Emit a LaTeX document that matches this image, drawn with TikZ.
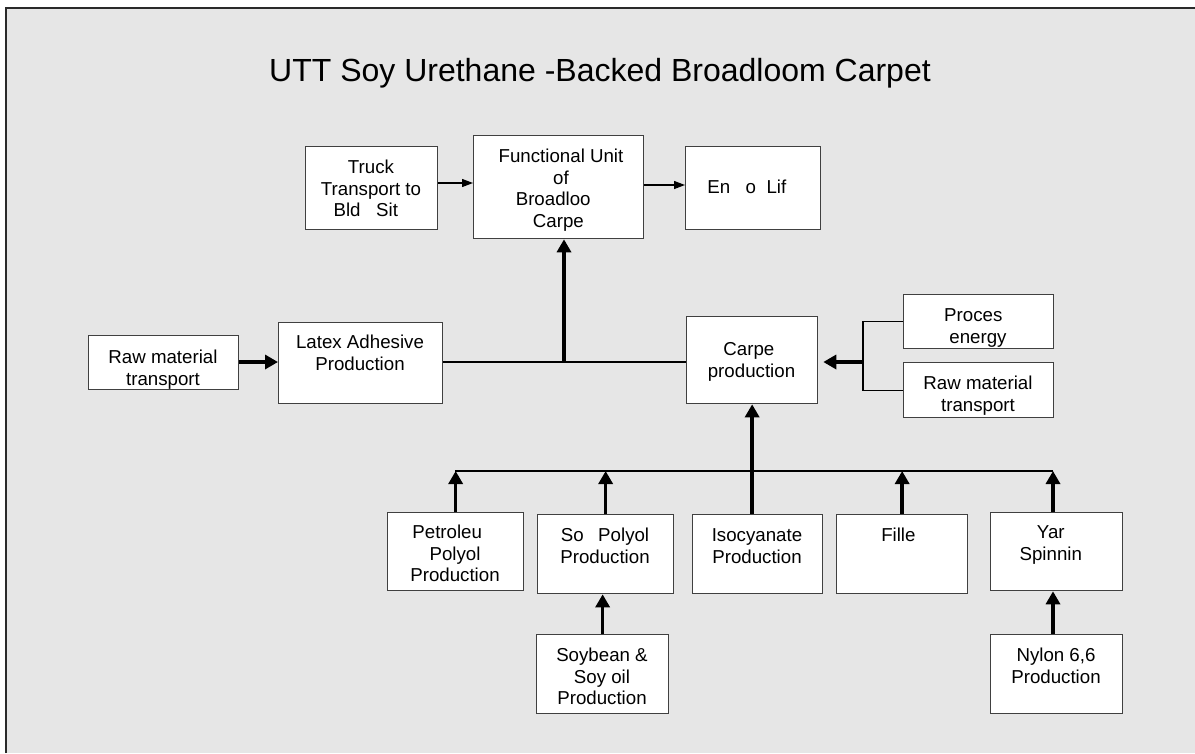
\documentclass[tikz,border=0pt]{standalone}
\usepackage{fontspec}
\setmainfont{Liberation Sans}
\usetikzlibrary{arrows.meta,calc}
\definecolor{bg}{HTML}{E6E6E6}
\definecolor{frame}{HTML}{2A2A2A}
\definecolor{edge}{HTML}{404040}
\newcommand\fl{\rule{0pt}{15pt}}
\begin{document}
\begin{tikzpicture}[x=1pt,y=-1pt,
  box/.style={draw=edge, fill=white, line width=1.3pt, inner sep=0pt, anchor=north west},
  txt/.style={inner sep=0pt, align=center, anchor=north, font=\fontsize{18.7}{21.8}\selectfont},
  tarr/.style={line width=1.3pt, -{Triangle[length=11pt,width=8pt]}},
  karr/.style={line width=3.5pt, -{Triangle[length=13pt,width=14pt]}},
  tline/.style={line width=1.3pt}]
\useasboundingbox (0,0) rectangle (1195,753);
\fill[white] (0,0) rectangle (1195,753);
\fill[bg] (6,8) rectangle (1195,753);
\draw[line width=2.5pt, color=frame] (6.2,753) -- (6.2,8.2) -- (1195,8.2);

\node[anchor=base, inner sep=0pt, font=\fontsize{32}{36}\selectfont] (title) at (600,81) {UTT Soy Urethane -Backed Broadloom Carpet};

% boxes
\node[box, minimum width=132pt, minimum height=83pt] (tr) at (305,146) {};
\node[txt] (trt) at (371,158) {\fl Truck\\Transport to\\Bld\phantom{g} Sit\phantom{e}};
\node[box, minimum width=170pt, minimum height=103pt] (fu) at (473,135) {};
\node[txt] (fut) at (561,147) {\fl Functional Unit\\of\hspace{38pt}\\Broadloo\phantom{m}\\Carpe\phantom{t}};
\node[box, minimum width=135pt, minimum height=83pt] (eol) at (685,146) {};
\node[txt] (eolt) at (752,178) {\fl En\phantom{d} o\phantom{f} Lif\phantom{e}};

\node[box, minimum width=150pt, minimum height=54pt] (rm1) at (88,335) {};
\node[txt] (rm1t) at (163,348) {\fl Raw material\\transport};
\node[box, minimum width=164pt, minimum height=81pt] (lat) at (278,322) {};
\node[txt] (latt) at (360,333) {\fl Latex Adhesive\\Production};
\node[box, minimum width=131pt, minimum height=87pt] (cp) at (686,316) {};
\node[txt] (cpt) at (751.5,340) {\fl Carpe\phantom{t}\\production};
\node[box, minimum width=150pt, minimum height=54pt] (pe) at (903,294) {};
\node[txt] (pet) at (978,306) {\fl Proces\phantom{s}\\energy};
\node[box, minimum width=150pt, minimum height=55pt] (rm2) at (903,362) {};
\node[txt] (rm2t) at (978,374) {\fl Raw material\\transport};

\node[box, minimum width=136pt, minimum height=78pt] (pp) at (387,512) {};
\node[txt] (ppt) at (455,523) {\fl Petroleu\phantom{m}\\Polyol\\Production};
\node[box, minimum width=136pt, minimum height=79pt] (sp) at (537,514) {};
\node[txt] (spt) at (605,526) {\fl So\phantom{y} Polyol\\Production};
\node[box, minimum width=130pt, minimum height=79pt] (iso) at (692,514) {};
\node[txt] (isot) at (757,526) {\fl Isocyanate\\Production};
\node[box, minimum width=131pt, minimum height=79pt] (fil) at (836,514) {};
\node[txt] (filt) at (901.5,526) {\fl Fille\phantom{r}};
\node[box, minimum width=132pt, minimum height=78pt] (yn) at (990,512) {};
\node[txt] (ynt) at (1056,523) {\fl Yar\phantom{n}\\Spinnin\phantom{g}};

\node[box, minimum width=132pt, minimum height=79pt] (sb) at (536,634) {};
\node[txt] (sbt) at (602,646) {\fl Soybean \&\\Soy oil\\Production};
\node[box, minimum width=132pt, minimum height=79pt] (ny) at (990,634) {};
\node[txt] (nyt) at (1056,646) {\fl Nylon 6,6\\Production};

% connectors
\coordinate (a1) at (0,183);
\coordinate (a2) at (0,185);
\draw[tarr] (tr.east |- a1) -- (fu.west |- a1);
\draw[tarr] (fu.east |- a2) -- (eol.west |- a2);
\coordinate (mid) at (0,362);
\draw[karr] (rm1.east |- mid) -- (lat.west |- mid);
\draw[tline] (lat.east |- mid) -- (cp.west |- mid);
\coordinate (j1) at (564,362);
\draw[karr] (j1) -- (j1 |- fu.south);
\coordinate (br) at (863,362);
\draw[tline] (pe.west) -| (br |- rm2.west) -- (rm2.west);
\draw[karr, shorten >=5pt] (br) -- (cp.east |- br);
\coordinate (b1) at (455,471);
\coordinate (b2) at (1053,471);
\draw[tline] (b1) -- (b2);
\draw[karr] (pp.north) -- (pp.north |- b1);
\draw[karr] (sp.north) -- (sp.north |- b1);
\draw[karr] (fil.north) -- (fil.north |- b1);
\draw[karr] (yn.north -| b2) -- (b2);
\draw[karr] (iso.north -| cp.south) -- (cp.south);
\draw[karr] (sb.north) -- (sb.north |- sp.south);
\draw[karr] (ny.north -| b2) -- (yn.south -| b2);
\end{tikzpicture}
\end{document}
